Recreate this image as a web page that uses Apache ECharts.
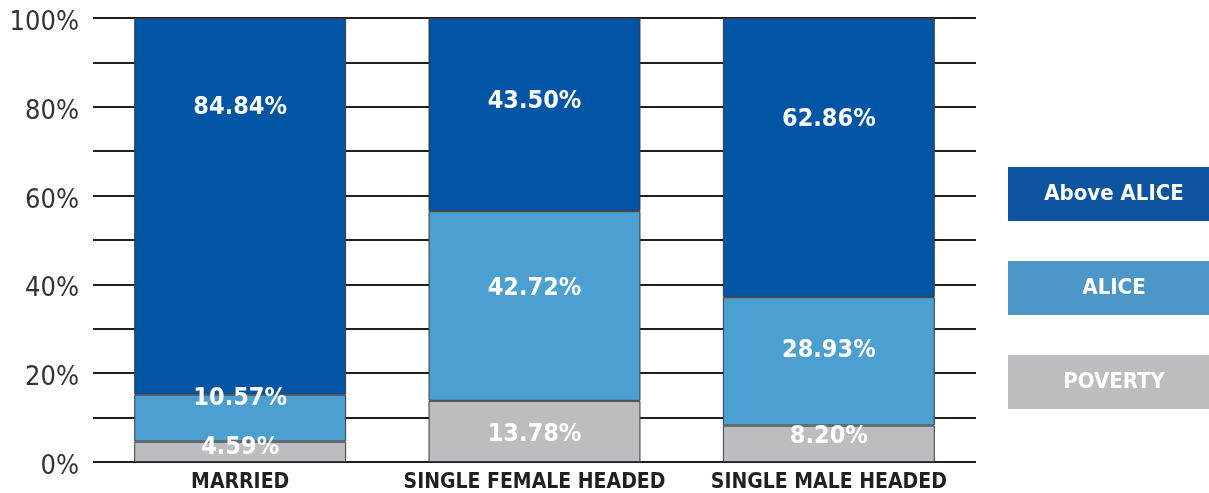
<!DOCTYPE html>
<html>
<head>
<meta charset="utf-8">
<script src="https://cdn.jsdelivr.net/npm/echarts@6/dist/echarts.min.js"></script>
<style>
  html, body { margin: 0; padding: 0; background: #fff; }
  #chart { width: 1209px; height: 493px; }
</style>
</head>
<body>
<div id="chart"></div>
<script>
// 数据
var categories = ['MARRIED', 'SINGLE FEMALE HEADED', 'SINGLE MALE HEADED'];
var povertyValues = [4.59, 13.78, 8.20];
var aliceValues = [10.57, 42.72, 28.93];
var aboveAliceValues = [84.84, 43.50, 62.86];
var seriesNames = ['POVERTY', 'ALICE', 'Above ALICE'];
var yTicks = [0, 10, 20, 30, 40, 50, 60, 70, 80, 90, 100];

var narrow = '"Liberation Sans Narrow", "DejaVu Sans Condensed", sans-serif';
var colors = ['#BCBDC0', '#4C9FD1', '#0254A4'];

// 标签上下微调 (px)
var labelShift = [
    [-4, 3, -7],      // POVERTY
    [-20, -17, -11],  // ALICE
    [-99, -13, -38]   // Above ALICE
];

function buildSeries(name, values, idx) {
    return {
        name: name,
        type: 'bar',
        stack: 'total',
        barWidth: '72%',
        itemStyle: {
            color: colors[idx],
            borderColor: '#3a3a3a',
            borderWidth: 1
        },
        label: {
            show: true,
            position: 'inside',
            color: '#fff',
            fontFamily: narrow,
            fontWeight: 'bold',
            fontSize: 25,
            formatter: function (p) { return p.value.toFixed(2) + '%'; }
        },
        data: values.map(function (v, i) {
            return { value: v, label: { offset: [0, labelShift[idx][i]] } };
        })
    };
}

var legendBox = { color: '#fff', width: 212, height: 54, lineHeight: 54, align: 'center', fontFamily: narrow, fontWeight: 'bold', fontSize: 22 };

var chart = echarts.init(document.getElementById('chart'));
var option = {
    animation: false,
    backgroundColor: '#fff',
    grid: { left: 93, right: 233, top: 18, bottom: 29, containLabel: false },
    legend: {
        orient: 'vertical',
        left: 1002,
        top: 167,
        padding: 0,
        itemWidth: 0,
        itemHeight: 0,
        itemGap: 40,
        selectedMode: false,
        data: ['Above ALICE', 'ALICE', 'POVERTY'],
        formatter: function (name) {
            var key = name === 'Above ALICE' ? 'above' : (name === 'ALICE' ? 'alice' : 'poverty');
            return '{' + key + '|' + name + '}';
        },
        textStyle: {
            rich: {
                above: Object.assign({ backgroundColor: '#0E53A0' }, legendBox),
                alice: Object.assign({ backgroundColor: '#4D97C8' }, legendBox),
                poverty: Object.assign({ backgroundColor: '#BDBCC0' }, legendBox)
            }
        }
    },
    xAxis: {
        type: 'category',
        data: categories,
        axisLine: { show: false },
        axisTick: { show: false },
        axisLabel: {
            interval: 0,
            color: '#231F20',
            fontFamily: narrow,
            fontWeight: 'bold',
            fontSize: 21,
            margin: 10
        }
    },
    yAxis: {
        type: 'value',
        min: yTicks[0],
        max: yTicks[yTicks.length - 1],
        interval: 10,
        axisLine: { show: false },
        axisTick: { show: false },
        splitLine: { lineStyle: { color: '#231F20', width: 2 } },
        axisLabel: {
            margin: 14,
            formatter: function (v) { return v % 20 === 0 ? '{t|' + v + '%}' : ''; },
            rich: {
                t: { color: '#333', fontFamily: narrow, fontSize: 27, padding: [10, 0, 0, 0] }
            }
        }
    },
    series: [
        buildSeries(seriesNames[0], povertyValues, 0),
        buildSeries(seriesNames[1], aliceValues, 1),
        buildSeries(seriesNames[2], aboveAliceValues, 2)
    ]
};
chart.setOption(option);
</script>
</body>
</html>
